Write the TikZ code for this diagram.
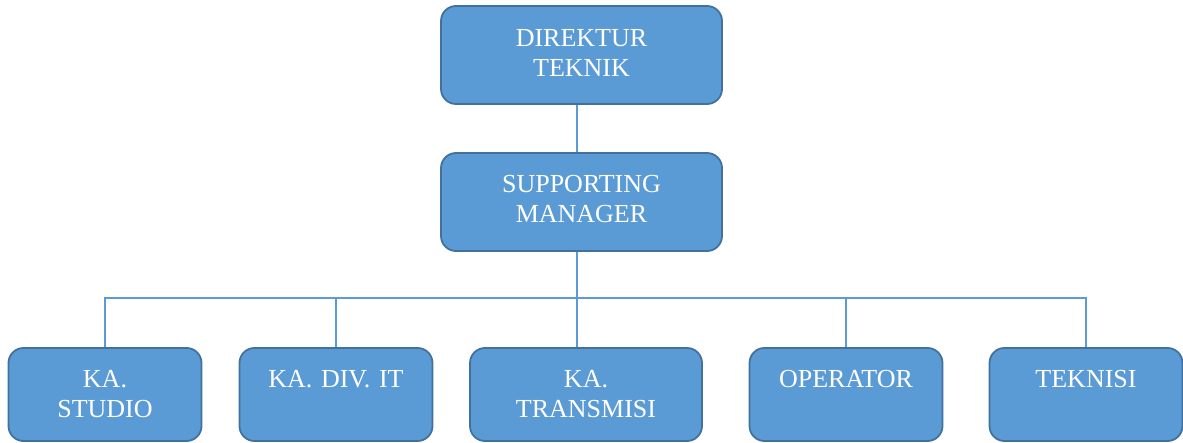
\documentclass[tikz,border=0pt]{standalone}
\usepackage{fontspec}
\setmainfont{Liberation Serif}
\definecolor{boxfill}{HTML}{5B9BD5}
\definecolor{boxline}{HTML}{41719C}
\definecolor{wire}{HTML}{5B9BD5}
\begin{document}
\begin{tikzpicture}[x=1pt,y=-1pt,
  orgbox/.style={draw=boxline, fill=boxfill, line width=1.8pt,
    rounded corners=15pt, inner sep=0pt},
  topbox/.style={orgbox, minimum width=281pt, minimum height=98pt},
  lowbox/.style={orgbox, minimum width=193pt, minimum height=93pt},
  boxtext/.style={text=white, anchor=base, inner sep=0pt, align=center,
    text width=#1, font=\fontsize{26}{30}\selectfont},
  boxtext/.default=270pt,
  wireline/.style={draw=wire, line width=1.4pt}]
  \useasboundingbox (0,0) rectangle (1183,443);

  % boxes
  \node[topbox] (dir) at (581.5,55) {};
  \node[topbox] (sup) at (581.5,202) {};
  \node[lowbox] (studio) at (105,394.5) {};
  \node[lowbox] (divit) at (336,394.5) {};
  \node[lowbox, minimum width=232pt] (trans) at (586,394.5) {};
  \node[lowbox] (oper) at (846,394.5) {};
  \node[lowbox] (tekn) at (1086,394.5) {};

  % box captions, first baseline about 40pt below the top edge
  \node[boxtext] (dirtxt) at ([yshift=-41pt]dir.north) {DIREKTUR\\TEKNIK};
  \node[boxtext] (suptxt) at ([yshift=-40pt]sup.north) {SUPPORTING\\MANAGER};
  \node[boxtext=185pt] (studiotxt) at ([yshift=-40pt]studio.north) {KA.\\STUDIO};
  \node[boxtext=185pt] (divittxt) at ([yshift=-40pt]divit.north) {KA. DIV. IT};
  \node[boxtext=225pt] (transtxt) at ([yshift=-40pt]trans.north) {KA.\\TRANSMISI};
  \node[boxtext=185pt] (opertxt) at ([yshift=-40pt]oper.north) {OPERATOR};
  \node[boxtext=185pt] (tekntxt) at ([yshift=-40pt]tekn.north) {TEKNISI};

  % connectors
  \coordinate (bus) at (577,298);
  \draw[wireline] (dir.south -| bus) -- (sup.north -| bus);
  \draw[wireline] (sup.south -| bus) -- (bus);
  \draw[wireline] (studio.north) -- (studio.north |- bus) -- (tekn.north |- bus) -- (tekn.north);
  \draw[wireline] (divit.north |- bus) -- (divit.north);
  \draw[wireline] (bus) -- (trans.north -| bus);
  \draw[wireline] (oper.north |- bus) -- (oper.north);
\end{tikzpicture}
\end{document}
